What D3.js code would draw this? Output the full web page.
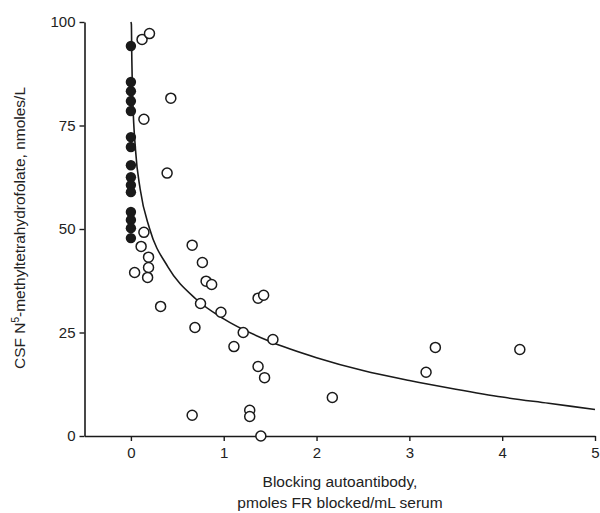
<!DOCTYPE html>
<html><head><meta charset="utf-8">
<script src="https://cdn.jsdelivr.net/npm/d3@7"></script>
<style>
body{margin:0;background:#fff;}
svg{display:block;}
text{font-family:"Liberation Sans",Arial,sans-serif;fill:#222;}
</style></head>
<body>
<svg id="chart" width="600" height="513"></svg>
<script>
// Filled (x = 0) group: y values
const filledY = [94.2, 85.5, 83.3, 80.9, 78.5, 72.2, 69.8, 65.4, 62.5, 60.6, 58.9, 54.1, 52.2, 50.2, 47.8];
// Open circles
const openX = [0.12, 0.20, 0.43, 0.14, 0.39, 0.14, 0.11, 0.19, 0.19, 0.18, 0.04, 0.32,
  0.66, 0.77, 0.81, 0.87, 0.75, 0.97, 0.69, 1.21, 1.11, 0.66, 1.28, 1.28,
  1.37, 1.44, 1.40, 1.37, 1.43, 1.53, 2.17, 3.28, 3.18, 4.19];
const openY = [95.8, 97.2, 81.6, 76.5, 63.5, 49.2, 45.8, 43.2, 40.7, 38.3, 39.5, 31.3,
  46.1, 41.9, 37.4, 36.6, 32.0, 29.9, 26.2, 25.0, 21.6, 5.0, 6.2, 4.7,
  16.8, 14.1, 0.0, 33.3, 34.0, 23.3, 9.3, 21.4, 15.4, 20.9];
// Fitted curve, points
const curveX = [0.0, 0.005, 0.01, 0.02, 0.05, 0.1, 0.2, 0.4, 0.7, 1.0, 1.5, 2.0, 2.5, 3.0, 3.5, 4.0, 4.5, 5.0];
const curveY = [100, 99.5, 90.8, 81.5, 69.0, 59.6, 50.2, 40.8, 33.1, 28.3, 22.8, 18.9, 15.8, 13.4, 11.3, 9.4, 7.9, 6.4];
const xTicks = [0, 1, 2, 3, 4, 5];
const yTicks = [0, 25, 50, 75, 100];

const svg = d3.select("#chart");
const x = d3.scaleLinear().domain([-0.5, 5]).range([84.5, 595]);
const y = d3.scaleLinear().domain([0, 100]).range([436, 22]);
const ink = "#1a1a1a";

// axes
const xAxis = svg.append("g").attr("transform", `translate(0,${y(0)})`)
  .call(d3.axisBottom(x).tickValues(xTicks).tickSize(5).tickSizeOuter(0).tickPadding(6).tickFormat(d3.format("d")));
const yAxis = svg.append("g").attr("transform", `translate(${x(-0.5)},0)`)
  .call(d3.axisLeft(y).tickValues(yTicks).tickSize(5).tickSizeOuter(0).tickPadding(4).tickFormat(d3.format("d")));
[xAxis, yAxis].forEach(g => {
  g.select(".domain").attr("stroke", ink).attr("stroke-width", 1.6);
  g.selectAll(".tick line").attr("stroke", ink).attr("stroke-width", 1.4);
  g.selectAll(".tick text").attr("font-size", 15).attr("fill", "#222")
    .attr("font-family", "'Liberation Sans',Arial,sans-serif");
});

// fitted curve
const line = d3.line().x(d => x(d[0])).y(d => y(d[1])).curve(d3.curveMonotoneX);
svg.append("path").datum(curveX.map((v, i) => [v, curveY[i]]))
  .attr("d", line).attr("fill", "none").attr("stroke", ink).attr("stroke-width", 1.6);

// filled points
svg.append("g").selectAll("circle").data(filledY).join("circle")
  .attr("cx", x(0)).attr("cy", d => y(d)).attr("r", 5.2).attr("fill", ink);

// open points
svg.append("g").selectAll("circle").data(openX.map((v, i) => [v, openY[i]])).join("circle")
  .attr("cx", d => x(d[0])).attr("cy", d => y(d[1])).attr("r", 5).attr("fill", "#fff")
  .attr("stroke", ink).attr("stroke-width", 1.5);

// axis titles
const xt = svg.append("text").attr("text-anchor", "middle").attr("font-size", 15.5);
xt.append("tspan").attr("x", 340).attr("y", 487).text("Blocking autoantibody,");
xt.append("tspan").attr("x", 340).attr("y", 508).text("pmoles FR blocked/mL serum");

const yt = svg.append("text").attr("text-anchor", "middle").attr("font-size", 15.5)
  .attr("transform", "translate(25,228) rotate(-90)");
yt.append("tspan").text("CSF N");
yt.append("tspan").attr("font-size", 10).attr("dy", -6).text("5");
yt.append("tspan").attr("dy", 6).text("-methyltetrahydrofolate, nmoles/L");
</script>
</body></html>
